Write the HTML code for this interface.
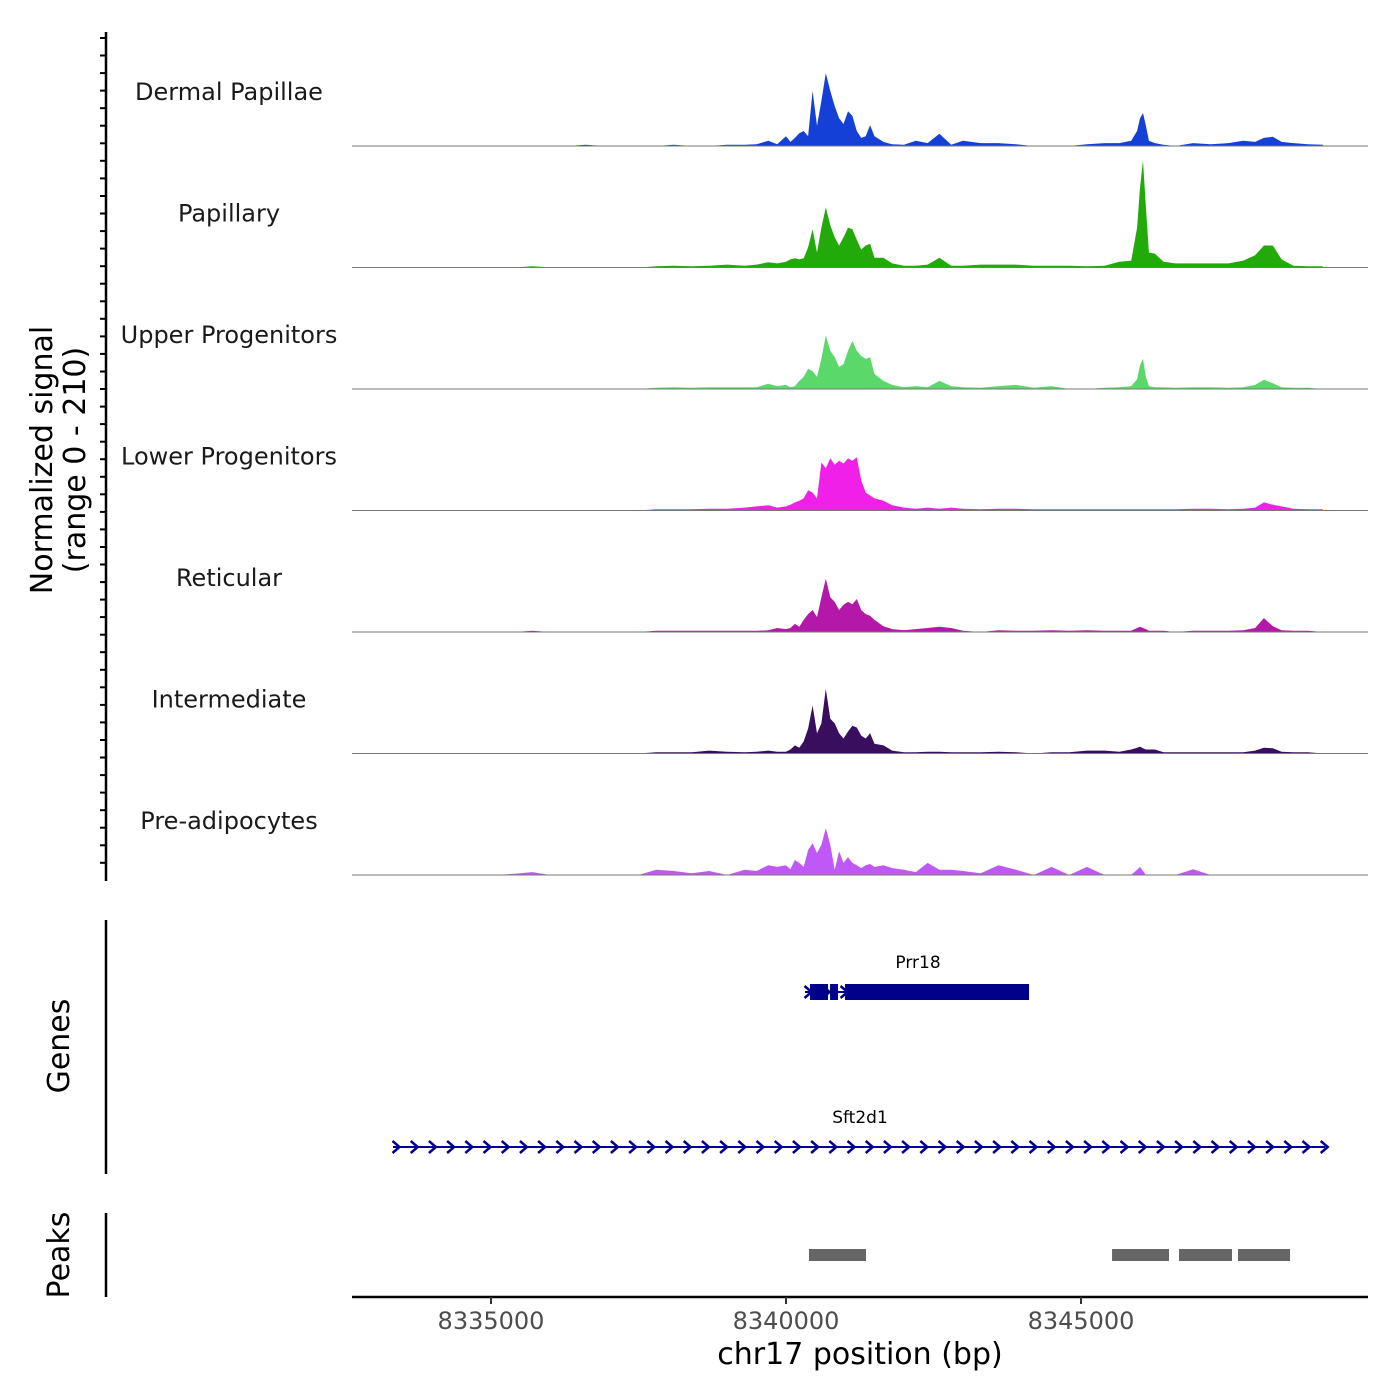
<!DOCTYPE html>
<html><head><meta charset="utf-8"><style>
html,body{margin:0;padding:0;background:#fff;}
svg{display:block;font-family:"DejaVu Sans","Liberation Sans",sans-serif;}
</style></head><body>
<svg id="chart" width="1400" height="1400" viewBox="0 0 1400 1400" xmlns="http://www.w3.org/2000/svg">
<g id="tracks"></g>
<g id="yaxis"></g>
<text transform="translate(52,460) rotate(-90)" text-anchor="middle" font-size="30" fill="#000">Normalized signal</text>
<text transform="translate(85,460) rotate(-90)" text-anchor="middle" font-size="30" fill="#000">(range 0 - 210)</text>
<line x1="106" y1="920" x2="106" y2="1174" stroke="#000" stroke-width="2.5"/>
<text transform="translate(69,1046) rotate(-90)" text-anchor="middle" font-size="30" fill="#000">Genes</text>
<g id="genes"></g>
<line x1="106" y1="1213" x2="106" y2="1297" stroke="#000" stroke-width="2.5"/>
<text transform="translate(69,1255) rotate(-90)" text-anchor="middle" font-size="30" fill="#000">Peaks</text>
<g id="peaks"></g>
<g id="xaxis"></g>
<text x="860" y="1364" text-anchor="middle" font-size="30" fill="#000">chr17 position (bp)</text>
</svg>
<script>
const positions = [8335100,8335400,8335700,8336000,8336300,8336600,8336900,8337200,8337500,8337800,8338100,8338400,8338700,8339000,8339300,
8339500,8339700,8339850,
8340000,8340075,8340150,8340225,8340300,8340375,8340450,8340525,8340600,8340675,8340750,8340825,8340900,8340975,8341050,8341125,8341200,8341275,8341350,8341425,8341500,
8341650,8341800,8342000,8342200,8342400,8342600,8342800,8343000,8343300,8343600,8343900,8344200,8344500,8344800,8345100,8345400,8345650,8345850,
8345950,8346000,8346050,8346100,8346150,8346250,8346400,8346600,
8346900,8347200,8347500,8347750,8347950,8348100,8348250,8348400,8348600,8348850,8349100];
const trackNames = ["Dermal Papillae","Papillary","Upper Progenitors","Lower Progenitors","Reticular","Intermediate","Pre-adipocytes"];
const trackColors = ["#1540d8","#22aa0a","#5ad86a","#f020e8","#b318a8","#3a0e5e","#c058f8"];
const dermalPapillae = [0,0,0,0,0,2,0,0,0,0,2,0,0,2,2, 3,9,3, 17,7,14,22,26,17,95,35,78,126,95,69,48,38,60,52,26,14,17,36,17, 7,3,2,9,5,21,2,9,5,5,3,0,0,0,3,5,5,9, 26,48,57,35,9,5,2,0, 5,3,5,9,7,14,16,7,5,3,2];
const papillary = [0,0,2,0,0,0,0,0,0,2,3,2,3,5,3, 5,9,7, 10,14,16,14,16,35,66,26,69,104,73,52,38,52,69,66,48,31,38,41,17, 17,7,3,3,5,17,3,3,5,5,5,3,3,3,2,3,10,12, 69,138,185,104,26,24,10,7, 7,7,7,12,21,38,38,14,3,2,2];
const upperProgenitors = [0,0,0,0,0,0,0,0,0,2,3,2,3,3,3, 3,9,5, 7,3,5,14,21,35,31,21,52,93,66,55,38,43,66,83,66,57,52,55,26, 14,7,3,5,3,14,5,3,2,5,7,2,5,0,0,2,3,5, 17,41,52,21,5,3,3,2, 3,3,2,3,7,16,10,3,2,2,0];
const lowerProgenitors = [0,0,0,0,0,0,0,0,0,2,2,2,3,3,5, 7,9,5, 7,10,14,17,21,35,31,21,83,73,90,79,86,81,90,86,92,52,31,26,21, 17,9,5,3,5,3,5,3,2,3,3,2,2,2,2,2,2,2, 2,2,2,2,2,2,2,2, 3,3,2,3,5,14,10,7,3,2,2];
const reticular = [0,0,2,0,0,0,0,0,0,2,2,2,2,2,2, 2,3,7, 5,7,14,9,21,31,38,26,60,92,60,52,38,47,52,48,57,38,31,28,21, 10,5,3,5,7,9,7,2,0,3,2,2,3,2,3,2,2,2, 7,9,7,5,2,2,2,0, 2,2,2,3,7,24,10,3,2,2,0];
const intermediate = [0,0,0,0,0,0,0,0,0,2,2,2,5,3,2, 3,5,3, 3,7,14,10,21,43,83,35,52,112,60,52,35,26,38,48,45,31,26,35,17, 14,5,2,2,3,3,2,2,2,3,2,0,2,2,5,5,3,7, 10,12,9,7,7,7,2,2, 2,2,2,2,5,10,9,3,2,2,0];
const preAdipocytes = [0,2,5,0,0,0,0,0,0,9,7,3,7,0,9, 7,17,14, 17,10,26,21,14,43,55,38,52,81,52,9,41,21,31,21,17,12,17,19,14, 17,12,9,5,21,9,9,7,3,17,9,0,14,0,14,0,0,0, 9,14,7,0,0,0,0,0, 10,0,0,0,0,0,0,0,0,0,0];
const xTicks = [8335000,8340000,8345000];
const yMax = 210;
const peakStarts = [8340390,8345526,8346661,8347661];
const peakEnds = [8341356,8346492,8347559,8348543];
const geneNames = ["Prr18","Sft2d1"];
const geneStarts = [8340322,8333339];
const geneEnds = [8344119,8349136];
const prr18ExonStarts = [8340407,8340746,8341000];
const prr18ExonEnds = [8340712,8340881,8344119];

const NS = "http://www.w3.org/2000/svg";
const X0 = 352, X1 = 1368, BP0 = 8332644, BP1 = 8349864;
function xs(bp){ return X0 + (bp - BP0) / (BP1 - BP0) * (X1 - X0); }
const TRACK_H = 121.5, FIRST_BASE = 146;
function ys(v, i){ return FIRST_BASE + i*TRACK_H - v / yMax * TRACK_H; }
function mk(tag, attrs, parent){ const e = document.createElementNS(NS, tag); for (const k in attrs) e.setAttribute(k, attrs[k]); parent.appendChild(e); return e; }

const series = [dermalPapillae,papillary,upperProgenitors,lowerProgenitors,reticular,intermediate,preAdipocytes];
const tracksG = document.getElementById('tracks');
series.forEach((vals, i) => {
  const base = ys(0, i);
  let d = `M${xs(positions[0]).toFixed(1)},${base}`;
  vals.forEach((v, j) => { d += ` L${xs(positions[j]).toFixed(1)},${ys(v, i).toFixed(1)}`; });
  d += ` L${xs(positions[positions.length-1]).toFixed(1)},${base} Z`;
  const p = mk('path', {d: d, fill: trackColors[i], stroke: 'none'}, tracksG);
  
  
  const bl = mk('line', {x1: X0, x2: X1, y1: base, y2: base, stroke: '#777', 'stroke-width': 1}, tracksG);
  
  
  const t = mk('text', {x: 229, y: base - 46, 'text-anchor': 'middle', 'font-size': 24, fill: '#1a1a1a'}, tracksG);
  t.textContent = trackNames[i];
  
  
});

const yG = document.getElementById('yaxis');
const yl = mk('line', {x1: 106, x2: 106, y1: 32, y2: 881, stroke: '#000', 'stroke-width': 2.5}, yG);


for (let y = 38; y <= 880; y += 17.55) {
  const tk = mk('line', {x1: 100, x2: 106, y1: y.toFixed(1), y2: y.toFixed(1), stroke: '#000', 'stroke-width': 2}, yG);
  
  
}

const gG = document.getElementById('genes');
const navy = '#00008b';
function chevrons(xa, xb, y, step){
  for (let x = xa; x <= xb; x += step) {
    const c = mk('path', {d: `M${x-3.5},${y-6} L${x+3.5},${y} L${x-3.5},${y+6}`, fill: 'none', stroke: navy, 'stroke-width': 2.5}, gG);
    
    
  }
}
const prrY = 992;
const prrLine = mk('line', {x1: xs(geneStarts[0]), x2: xs(geneEnds[0]), y1: prrY, y2: prrY, stroke: navy, 'stroke-width': 2}, gG);


prr18ExonStarts.forEach((s, k) => {
  const r = mk('rect', {x: xs(s), y: prrY - 8, width: xs(prr18ExonEnds[k]) - xs(s), height: 16, fill: navy}, gG);
  
  
});
chevrons(xs(geneStarts[0]) + 3, xs(prr18ExonStarts[2]), prrY, 18);
const prrT = mk('text', {x: (xs(geneStarts[0]) + xs(geneEnds[0]))/2 + 1, y: 968, 'text-anchor': 'middle', 'font-size': 17, fill: '#000'}, gG);
prrT.textContent = geneNames[0];


const sfY = 1147;
const sfLine = mk('line', {x1: xs(geneStarts[1]), x2: xs(geneEnds[1]), y1: sfY, y2: sfY, stroke: navy, 'stroke-width': 2}, gG);


chevrons(xs(geneStarts[1]) + 3, xs(geneEnds[1]) + 1, sfY, 18.2);
const sfT = mk('text', {x: 860, y: 1123, 'text-anchor': 'middle', 'font-size': 17, fill: '#000'}, gG);
sfT.textContent = geneNames[1];



const pG = document.getElementById('peaks');
peakStarts.forEach((s, k) => {
  const r = mk('rect', {x: xs(s), y: 1249, width: xs(peakEnds[k]) - xs(s), height: 12, fill: '#666'}, pG);
  
  
});

const xG = document.getElementById('xaxis');
const xl = mk('line', {x1: X0, x2: X1, y1: 1297, y2: 1297, stroke: '#000', 'stroke-width': 2.5}, xG);


xTicks.forEach(v => {
  const tk = mk('line', {x1: xs(v), x2: xs(v), y1: 1297, y2: 1304, stroke: '#333', 'stroke-width': 2}, xG);
  
  
  const tl = mk('text', {x: xs(v), y: 1329, 'text-anchor': 'middle', 'font-size': 24, fill: '#4d4d4d'}, xG);
  tl.textContent = v;
  
  
});
</script>
</body></html>
